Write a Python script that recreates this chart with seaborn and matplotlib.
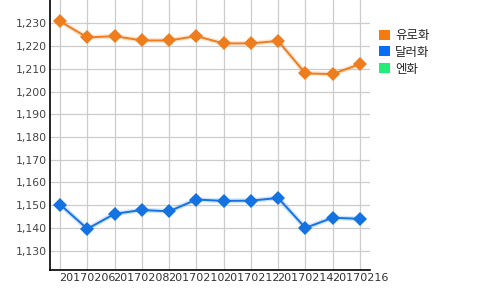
import matplotlib
matplotlib.use("Agg")
import matplotlib.pyplot as plt
from matplotlib.patches import Patch
import seaborn as sns
import pandas as pd

dates = ["20170205", "20170206", "20170207", "20170208", "20170209", "20170210",
         "20170211", "20170212", "20170213", "20170214", "20170215", "20170216"]
euro = [1230.9, 1223.8, 1224.4, 1222.5, 1222.5, 1224.4, 1221.2, 1221.2, 1222.3, 1208.0, 1207.7, 1212.1]
dollar = [1150.3, 1139.6, 1146.2, 1147.9, 1147.3, 1152.5, 1151.9, 1152.0, 1153.2, 1140.0, 1144.5, 1144.0]
series_names = ["유로화", "달러화", "엔화"]
line_colors = ["#EE7D1E", "#1473E0", "#22EE77"]
legend_colors = ["#F57A10", "#0A6EF5", "#22EE77"]
yticks = [1130, 1140, 1150, 1160, 1170, 1180, 1190, 1200, 1210, 1220, 1230]

sns.set_theme(style="white")
plt.rcParams['font.family'] = ['DejaVu Sans']

fig = plt.figure(figsize=(5, 2.9), dpi=100)
ax = fig.add_axes([0.1, 0.069, 0.64, 0.931])

idx = list(range(len(dates)))
df = pd.DataFrame({"x": idx * 2,
                   "value": euro + dollar,
                   "series": [series_names[0]] * len(euro) + [series_names[1]] * len(dollar)})

for name, col in zip(series_names[:2], line_colors[:2]):
    sub = df[df.series == name]
    # soft halo under the line
    sns.lineplot(data=sub, x="x", y="value", ax=ax, color=col, linewidth=3.5, alpha=0.2)
    sns.lineplot(data=sub, x="x", y="value", ax=ax, color=col, marker="D",
                 markersize=7.5, markeredgewidth=0, linewidth=1.4)

ax.set_xlim(-0.37, len(dates) - 1 + 0.37)
ax.set_ylim(1121.5, 1240.3)
ax.set_xticks(idx)
ax.set_xticklabels([d if i % 2 == 1 else "" for i, d in enumerate(dates)], fontsize=8, color="#333333")
ax.set_yticks(yticks)
ax.set_yticklabels([f"{v:,}" for v in yticks], fontsize=7.8, color="#444444")
ax.grid(True, color="#CCCCCC", linewidth=0.9)
ax.tick_params(axis="both", length=0, pad=2)
ax.set_xlabel("")
ax.set_ylabel("")
for s in ["top", "right"]:
    ax.spines[s].set_visible(False)
for s in ["left", "bottom"]:
    ax.spines[s].set_color("black")
    ax.spines[s].set_linewidth(1.2)

handles = [Patch(facecolor=c, edgecolor="none") for c in legend_colors]
fig.legend(handles, series_names, loc="upper left", bbox_to_anchor=(0.758, 0.9),
           frameon=False, prop={"family": ["Noto Sans CJK KR", "DejaVu Sans"], "size": 9},
           handlelength=0.85, handleheight=0.85, handletextpad=0.45, labelspacing=0.3,
           borderaxespad=0, borderpad=0)

fig.savefig("out.png", dpi=100)
